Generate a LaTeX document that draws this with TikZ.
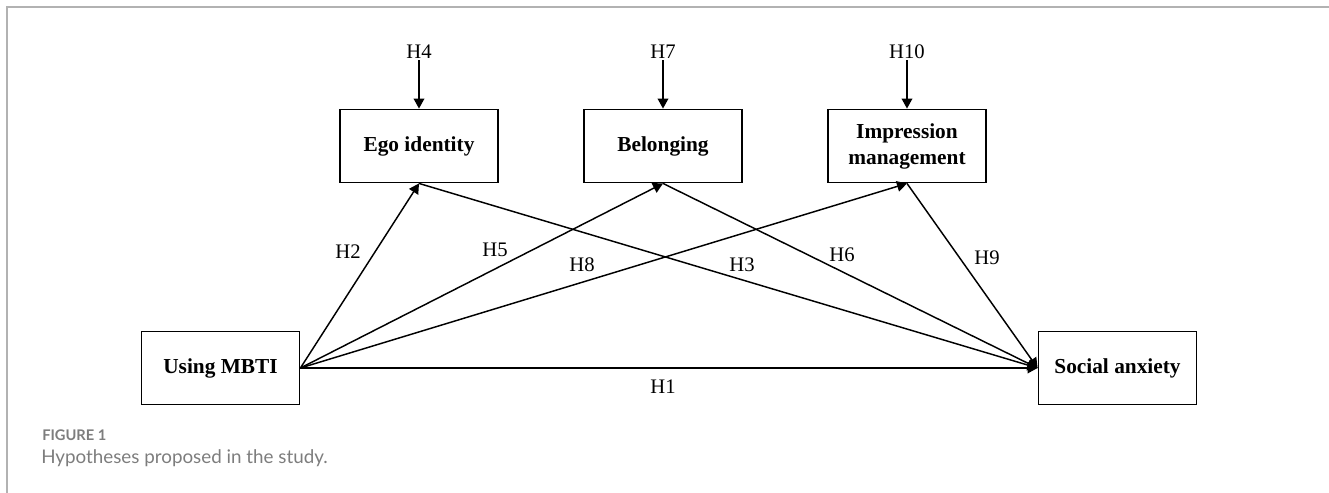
\documentclass[tikz,border=0pt]{standalone}
\usepackage{fontspec}
\setmainfont{Liberation Serif}
\newfontfamily\capfont{Lato}
\usetikzlibrary{arrows.meta}
\definecolor{framegray}{RGB}{178,178,178}
\definecolor{capgray}{RGB}{125,125,125}
\tikzset{
  varbox/.style={draw, line width=1.4pt, minimum width=118.5pt, minimum height=54.75pt,
    inner sep=0pt, align=center, font=\bfseries\fontsize{16}{19.5}\selectfont},
  hyp/.style={inner sep=1pt, font=\fontsize{15.5}{18}\selectfont},
  arr/.style={line width=1.1pt, -{Triangle[length=7.5pt,width=8pt]}},
}
\begin{document}
\begin{tikzpicture}[x=0.75pt,y=-0.75pt]
\useasboundingbox (0,0) rectangle (1329,493);
% frame
\draw[framegray, line width=1.2pt] (7,493) -- (7,7) -- (1329,7);
% boxes
\node[varbox] (ego) at (419,146) {Ego identity};
\node[varbox] (bel) at (663,146) {Belonging};
\node[varbox] (imp) at (907,146) {Impression\\management};
\node[varbox] (mbti) at (220.5,368) {Using MBTI};
\node[varbox] (soc) at (1117.5,368) {Social anxiety};
% top labels
\node[hyp, anchor=south] (h4) at (419,60) {H4};
\node[hyp, anchor=south] (h7) at (663,60) {H7};
\node[hyp, anchor=south] (h10) at (907,60) {H10};
\draw[arr] (h4.south) -- (ego.north);
\draw[arr] (h7.south) -- (bel.north);
\draw[arr] (h10.south) -- (imp.north);
% paths
\draw[arr] (mbti.east) -- (ego.south);
\draw[arr] (mbti.east) -- (bel.south);
\draw[arr] (mbti.east) -- (imp.south);
\draw[arr] (ego.south) -- (soc.west);
\draw[arr] (bel.south) -- (soc.west);
\draw[arr] (imp.south) -- (soc.west);
\draw[arr] (mbti.east) -- (soc.west);
% labels
\node[hyp] (h2) at (348,252) {H2};
\node[hyp] (h5) at (495,250) {H5};
\node[hyp] (h8) at (582,265) {H8};
\node[hyp] (h3) at (742,265) {H3};
\node[hyp] (h6) at (842,255) {H6};
\node[hyp] (h9) at (987,258) {H9};
\node[hyp] (h1) at (663,387) {H1};
% caption
\node[anchor=west, inner sep=0pt, text=capgray, font=\capfont\bfseries\fontsize{11}{13}\selectfont] (fig) at (42,435) {FIGURE 1};
\node[anchor=west, inner sep=0pt, text=capgray, font=\capfont\fontsize{14.1}{16}\selectfont] (cap) at (41,458) {Hypotheses proposed in the study.};
\end{tikzpicture}
\end{document}
